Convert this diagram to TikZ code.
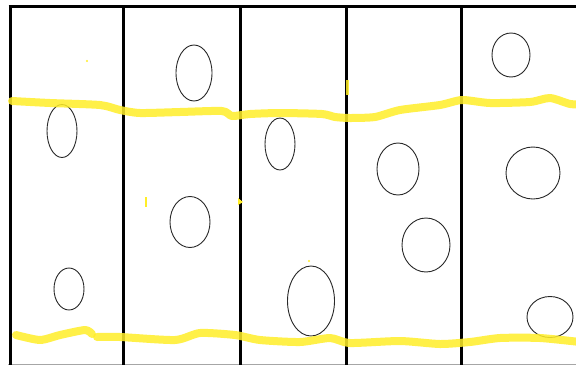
\documentclass[tikz,border=0pt]{standalone}
\usetikzlibrary{shapes.geometric}
\definecolor{hl}{RGB}{255,238,40}
\definecolor{rim}{RGB}{40,40,40}
\tikzset{
  cell/.style={ellipse, draw=rim, line width=0.9pt, inner sep=0pt},
  wall/.style={line width=3pt, black},
  marker/.style={line width=8pt, hl, opacity=0.85, line cap=round, line join=round},
}
\begin{document}
\begin{tikzpicture}[x=1pt, y=-1pt]
\useasboundingbox (0,0) rectangle (576,365);
\fill[white] (0,0) rectangle (576,365);
% frame
\coordinate (tl) at (8.5,6.5);
\coordinate (tr) at (576,6.5);
\draw[wall] (tl) -- (tr);
\draw[gray!70, line width=1pt] (8,364) -- (576,364);
\foreach \x/\n in {10/a,123/b,240/c,346/d,461/e}{
  \coordinate (\n t) at (\x,5);
  \coordinate (\n b) at (\x,365);
  \draw[wall] (\n t) -- (\n b);
}
% cells
\node[cell, minimum width=30pt, minimum height=53pt] (e1) at (62,131) {};
\node[cell, minimum width=30pt, minimum height=42pt] (e2) at (69,289) {};
\node[cell, minimum width=36pt, minimum height=56pt] (e3) at (194,73) {};
\node[cell, minimum width=40pt, minimum height=51pt] (e4) at (190,222) {};
\node[cell, minimum width=30pt, minimum height=52pt] (e5) at (280,144) {};
\node[cell, minimum width=47pt, minimum height=70pt] (e6) at (311,301) {};
\node[cell, minimum width=42pt, minimum height=52pt] (e7) at (398,169) {};
\node[cell, minimum width=48pt, minimum height=54pt] (e8) at (426,245) {};
\node[cell, minimum width=38pt, minimum height=44pt] (e9) at (511,55) {};
\node[cell, minimum width=54pt, minimum height=52pt] (e10) at (533,173) {};
\node[cell, minimum width=46pt, minimum height=41pt] (e11) at (550,317) {};
% yellow marker lines
\draw[marker] plot[smooth, tension=0.4] coordinates {
  (12,101) (50,103) (100,105) (120,110) (140,113) (180,112) (222,111)
  (232,116) (250,114) (280,113) (322,114) (335,117) (350,118) (375,117)
  (400,110) (440,105) (462,100) (490,103) (530,102) (550,98) (570,104) (580,104)};
\draw[marker] plot[smooth, tension=0.4] coordinates {
  (16,335) (40,340) (60,335) (85,330) (92,334)};
\draw[marker] plot[smooth, tension=0.4] coordinates {
  (97,337) (120,337) (175,340) (200,333) (235,335) (260,340) (300,342)
  (330,338) (350,343) (400,341) (440,344) (470,342) (500,338) (540,338) (580,342)};
% small stray marks
\draw[hl, line width=3pt, opacity=0.85] (347.5,80) -- (347.5,95);
\draw[hl, line width=1.5pt] (146,197) -- (146,207);
\fill[hl] (238,198) -- (243,202) -- (238,205) -- cycle;
\fill[hl] (87,61) circle (1.2pt);
\fill[hl] (309,261) circle (1.2pt);
\end{tikzpicture}
\end{document}
